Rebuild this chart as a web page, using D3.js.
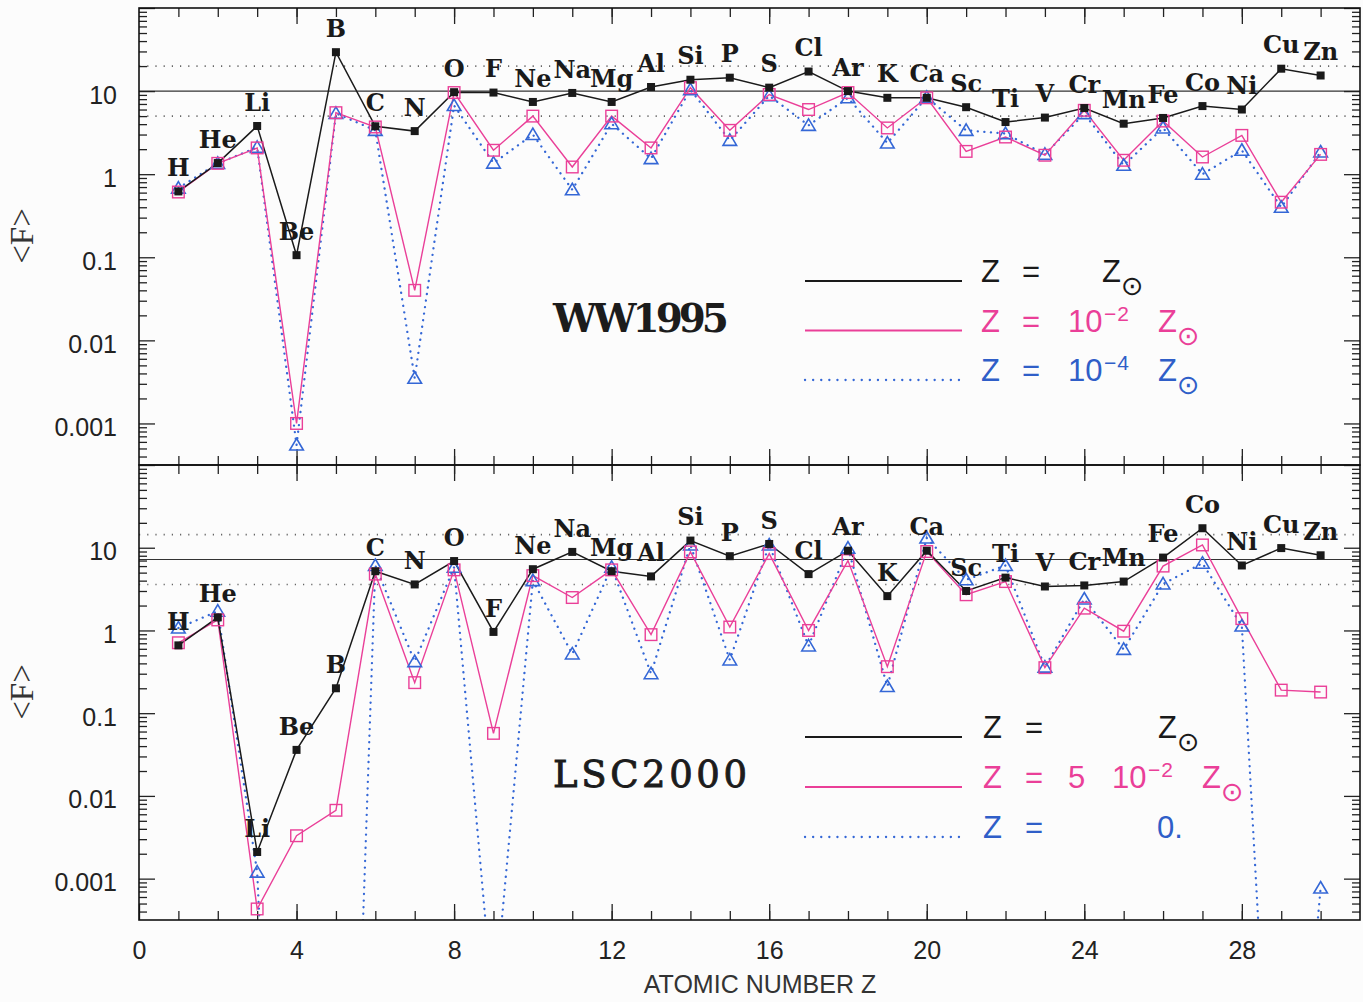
<!DOCTYPE html>
<html>
<head>
<meta charset="utf-8">
<script src="https://cdnjs.cloudflare.com/ajax/libs/d3/7.8.5/d3.min.js"></script>
<style>
body{margin:0;background:#fcfcfc;}
svg{display:block;}
.axis path{display:none;}
.axis line{stroke:#222;stroke-width:1.3;}
.axis text{font-family:'Liberation Sans',Arial,sans-serif;font-size:25px;fill:#222;}
</style>
</head>
<body>
<div id="canvas"></div>
<script>
console.log('abundances');

// data
var elements = ['H','He','Li','Be','B','C','N','O','F','Ne','Na','Mg','Al','Si','P','S','Cl','Ar','K','Ca','Sc','Ti','V','Cr','Mn','Fe','Co','Ni','Cu','Zn'];
var atomicZ = d3.range(1, 31);

// WW1995
var wwSolar  = [0.62,1.36,3.8,0.106,29.4,3.77,3.3,9.7,9.6,7.4,9.5,7.4,11.2,13.7,14.5,11.0,17.2,10.0,8.3,8.3,6.4,4.24,4.8,6.25,4.05,4.75,6.6,6.0,18.6,15.4];
var wwMinus2 = [0.61,1.35,2.07,0.001,5.5,3.7,0.040,9.6,1.94,5.0,1.22,5.0,2.07,11.0,3.37,9.1,6.0,9.6,3.6,8.3,1.88,2.8,1.69,5.87,1.47,4.36,1.61,2.93,0.46,1.73];
var wwMinus4 = [0.68,1.35,2.1,0.00055,5.4,3.37,0.0035,6.7,1.36,3.0,0.65,4.05,1.54,10.4,2.55,8.8,3.87,8.3,2.37,8.4,3.37,3.08,1.73,5.35,1.28,3.6,1.0,1.94,0.40,1.85];

// LSC2000
var lscSolar = [0.66,1.44,0.0021,0.036,0.20,5.2,3.6,6.9,0.96,5.5,8.9,5.2,4.5,12.2,7.9,11.1,4.8,9.2,2.6,9.2,3.0,4.35,3.4,3.5,3.9,7.6,17.2,6.1,9.9,8.1];
var lscFive2 = [0.71,1.34,0.00043,0.0033,0.0067,4.8,0.234,5.4,0.057,4.6,2.5,5.4,0.89,8.9,1.1,8.5,1.0,7.0,0.365,9.0,2.7,3.9,0.355,1.86,0.98,6.0,10.8,1.39,0.19,0.18];
var lscZero  = [1.07,1.71,0.0012,1e-13,1e-13,6.1,0.42,5.8,2.5e-5,4.0,0.52,5.8,0.30,10.8,0.44,10.8,0.65,9.9,0.21,13.1,4.1,6.1,0.36,2.4,0.59,3.65,6.5,1.13,3e-9,0.00077];

// horizontal guide levels (solid middle, dotted x2 and /2)
var refTop    = [5, 10, 20];
var refBottom = [3.6, 7.2, 14.4];

// tick labels
var xTicks = [0,4,8,12,16,20,24,28];
var xTickLabels = ['0','4','8','12','16','20','24','28'];
var yTicks = [0.001,0.01,0.1,1,10];
var yTickLabels = ['0.001','0.01','0.1','1','10'];

var pink = '#ea3f98', blue = '#3467d6', black = '#1a1a1a';

var W = 1363, H = 1002;
var svg = d3.select('#canvas')
    .append('svg')
    .attr('width', W)
    .attr('height', H);

svg.append('rect').attr('width', W).attr('height', H).attr('fill', '#fcfcfc');

var x = d3.scaleLinear().domain([0, 31]).range([139, 1360]);
var yMin = Math.pow(10, -3.5);

// log ticks
var yMajor = [0.001, 0.01, 0.1, 1, 10, 100];
var yMinor = [];
d3.range(-4, 2).forEach(function(e) {
    d3.range(2, 10).forEach(function(k) {
        var v = k * Math.pow(10, e);
        if (v > yMin && v < 100) yMinor.push(v);
    });
});
var xMinor = d3.range(1, 31);
var xMajor = [4,8,12,16,20,24,28];

var panels = [
    {id:'ww', title:'WW1995', top:8, bottom:465, solar:wwSolar, low:wwMinus2, lower:wwMinus4, refs:refTop,
     titleBold:true, titleLen:176, titleY:332, fy:236, legY:[281, 330.5, 380],
     legend:[
        [{s:'Z',x:981},{s:'=',x:1022},{s:'Z',x:1102},{s:'\u2299',x:1121,sun:1}],
        [{s:'Z',x:981},{s:'=',x:1022},{s:'10',x:1068},{s:'\u22122',x:1104,sup:1},{s:'Z',x:1158},{s:'\u2299',x:1177,sun:1}],
        [{s:'Z',x:981},{s:'=',x:1022},{s:'10',x:1068},{s:'\u22124',x:1104,sup:1},{s:'Z',x:1158},{s:'\u2299',x:1177,sun:1}]
     ]},
    {id:'lsc', title:'LSC2000', top:465, bottom:920, solar:lscSolar, low:lscFive2, lower:lscZero, refs:refBottom,
     titleBold:false, titleLen:194, titleY:787, fy:692, legY:[737, 787, 837],
     legend:[
        [{s:'Z',x:983},{s:'=',x:1025},{s:'Z',x:1158},{s:'\u2299',x:1177,sun:1}],
        [{s:'Z',x:983},{s:'=',x:1025},{s:'5',x:1068},{s:'10',x:1112},{s:'\u22122',x:1148,sup:1},{s:'Z',x:1202},{s:'\u2299',x:1221,sun:1}],
        [{s:'Z',x:983},{s:'=',x:1025},{s:'0.',x:1157}]
     ]}
];

panels.forEach(function(p) {

    var y = d3.scaleLog().domain([yMin, 100]).range([p.bottom, p.top]);
    var g = svg.append('g').attr('class', 'panel-' + p.id);

    svg.append('clipPath').attr('id', 'clip-' + p.id)
        .append('rect')
        .attr('x', x(0)).attr('y', p.top)
        .attr('width', x(31) - x(0)).attr('height', p.bottom - p.top);

    // guide lines
    g.selectAll('.ref')
        .data(p.refs)
        .enter()
        .append('line')
        .attr('x1', x(0)).attr('x2', x(31))
        .attr('y1', function(d) { return y(d); })
        .attr('y2', function(d) { return y(d); })
        .attr('stroke', function(d, i) { return i == 1 ? '#333' : '#666'; })
        .attr('stroke-width', function(d, i) { return i == 1 ? 1.1 : 1.6; })
        .attr('stroke-dasharray', function(d, i) { return i == 1 ? null : '1.2 7'; });

    // axes - ticks point inward
    g.append('g').attr('class', 'axis')
        .attr('transform', 'translate(' + x(0) + ',0)')
        .call(d3.axisLeft(y).tickValues(yMinor).tickSize(-8).tickFormat(''));
    var left = g.append('g').attr('class', 'axis')
        .attr('transform', 'translate(' + x(0) + ',0)')
        .call(d3.axisLeft(y).tickValues(yMajor).tickSize(-16).tickPadding(22)
            .tickFormat(function(d) {
                var i = yTicks.indexOf(d);
                return i < 0 ? '' : yTickLabels[i];
            }));
    left.selectAll('text').attr('y', 4);

    g.append('g').attr('class', 'axis')
        .attr('transform', 'translate(' + x(31) + ',0)')
        .call(d3.axisRight(y).tickValues(yMinor).tickSize(-8).tickFormat(''));
    g.append('g').attr('class', 'axis')
        .attr('transform', 'translate(' + x(31) + ',0)')
        .call(d3.axisRight(y).tickValues(yMajor).tickSize(-16).tickFormat(''));

    g.append('g').attr('class', 'axis')
        .attr('transform', 'translate(0,' + p.top + ')')
        .call(d3.axisTop(x).tickValues(xMinor).tickSize(-9).tickFormat(''));
    g.append('g').attr('class', 'axis')
        .attr('transform', 'translate(0,' + p.top + ')')
        .call(d3.axisTop(x).tickValues(xMajor).tickSize(-16).tickFormat(''));
    g.append('g').attr('class', 'axis')
        .attr('transform', 'translate(0,' + p.bottom + ')')
        .call(d3.axisBottom(x).tickValues(xMinor).tickSize(-9).tickFormat(''));
    if (p.id == 'lsc') {
        g.append('g').attr('class', 'axis')
            .attr('transform', 'translate(0,' + p.bottom + ')')
            .call(d3.axisBottom(x).tickValues(xTicks).tickSize(-16).tickPadding(21)
                .tickFormat(function(d, i) { return xTickLabels[i]; }));
    } else {
        g.append('g').attr('class', 'axis')
            .attr('transform', 'translate(0,' + p.bottom + ')')
            .call(d3.axisBottom(x).tickValues(xMajor).tickSize(-16).tickFormat(''));
    }

    // series
    var line = d3.line()
        .x(function(d) { return x(d.z); })
        .y(function(d) { return y(d.v); });

    function pts(arr) {
        return arr.map(function(v, i) { return {z: atomicZ[i], v: v}; });
    }

    var plot = g.append('g').attr('clip-path', 'url(#clip-' + p.id + ')');

    plot.append('path')
        .datum(pts(p.lower))
        .attr('d', line)
        .attr('fill', 'none')
        .attr('stroke', blue)
        .attr('stroke-width', 2.3)
        .attr('stroke-linecap', 'round')
        .attr('stroke-dasharray', '0.1 6.5');
    plot.append('path')
        .datum(pts(p.low))
        .attr('d', line)
        .attr('fill', 'none')
        .attr('stroke', pink)
        .attr('stroke-width', 1.4);
    plot.append('path')
        .datum(pts(p.solar))
        .attr('d', line)
        .attr('fill', 'none')
        .attr('stroke', black)
        .attr('stroke-width', 1.5);

    function inside(d) { return d.v >= yMin; }

    plot.selectAll('.tri')
        .data(pts(p.lower).filter(inside))
        .enter()
        .append('path')
        .attr('d', 'M0,-6.5L6.8,5L-6.8,5Z')
        .attr('transform', function(d) { return 'translate(' + x(d.z) + ',' + y(d.v) + ')'; })
        .attr('fill', 'none')
        .attr('stroke', blue)
        .attr('stroke-width', 1.6);
    plot.selectAll('.sq')
        .data(pts(p.low).filter(inside))
        .enter()
        .append('rect')
        .attr('x', function(d) { return x(d.z) - 5.8; })
        .attr('y', function(d) { return y(d.v) - 5.8; })
        .attr('width', 11.6).attr('height', 11.6)
        .attr('fill', 'none')
        .attr('stroke', pink)
        .attr('stroke-width', 1.4);
    plot.selectAll('.dot')
        .data(pts(p.solar).filter(inside))
        .enter()
        .append('rect')
        .attr('x', function(d) { return x(d.z) - 4; })
        .attr('y', function(d) { return y(d.v) - 4; })
        .attr('width', 8).attr('height', 8)
        .attr('fill', black);

    // element names above the solar points
    g.selectAll('.el')
        .data(pts(p.solar))
        .enter()
        .append('text')
        .attr('x', function(d) { return x(d.z); })
        .attr('y', function(d) { return y(d.v) - 24; })
        .attr('dy', '0.36em')
        .attr('text-anchor', 'middle')
        .style('font-family', "'DejaVu Serif', serif")
        .style('font-weight', 'bold')
        .style('font-size', '24px')
        .style('fill', black)
        .text(function(d, i) { return elements[i]; });

    // panel title
    g.append('text')
        .attr('x', 553).attr('y', p.titleY)
        .attr('textLength', p.titleLen)
        .attr('lengthAdjust', 'spacing')
        .style('font-family', "'DejaVu Serif', serif")
        .style('font-weight', p.titleBold ? 'bold' : 'normal')
        .style('font-size', p.titleBold ? '39px' : '37px')
        .style('fill', '#1c1c1c')
        .style('stroke', p.titleBold ? 'none' : '#1c1c1c')
        .style('stroke-width', 0.9)
        .text(p.title);

    // y title
    g.append('text')
        .attr('transform', 'translate(21,' + p.fy + ') rotate(-90)')
        .attr('text-anchor', 'middle')
        .attr('dy', '0.35em')
        .style('font-family', "'Liberation Serif', serif")
        .style('font-size', '33px')
        .style('fill', '#333')
        .text('<F>');

    // legend
    var legColors = [black, pink, '#2f5ec8'];
    var legStroke = [black, pink, blue];
    p.legend.forEach(function(row, i) {
        var ly = p.legY[i];
        g.append('line')
            .attr('x1', 805).attr('x2', 962)
            .attr('y1', ly).attr('y2', ly)
            .attr('stroke', legStroke[i])
            .attr('stroke-width', i == 2 ? 2.3 : 1.8)
            .attr('stroke-linecap', i == 2 ? 'round' : 'butt')
            .attr('stroke-dasharray', i == 2 ? '0.1 8' : null);
        row.forEach(function(part) {
            var t = g.append('text')
                .attr('x', part.x)
                .style('fill', legColors[i])
                .text(part.s);
            if (part.sup) {
                t.attr('y', ly - 10)
                    .style('font-family', "'Liberation Sans', sans-serif")
                    .style('font-size', '21px')
                    .style('letter-spacing', '1px');
            } else if (part.sun) {
                t.attr('y', ly + 14)
                    .style('font-family', "'DejaVu Sans', sans-serif")
                    .style('font-size', '27px');
            } else {
                t.attr('y', ly + 1)
                    .style('font-family', "'Liberation Sans', sans-serif")
                    .style('font-size', '31px');
            }
        });
    });

    // frame
    g.append('rect')
        .attr('x', x(0)).attr('y', p.top)
        .attr('width', x(31) - x(0)).attr('height', p.bottom - p.top)
        .attr('fill', 'none')
        .attr('stroke', '#111')
        .attr('stroke-width', 1.6);
});

svg.append('text')
    .attr('x', 760).attr('y', 993)
    .attr('text-anchor', 'middle')
    .style('font-family', "'Liberation Sans', Arial, sans-serif")
    .style('font-size', '25px')
    .style('fill', '#333')
    .text('ATOMIC NUMBER Z');
</script>
</body>
</html>
